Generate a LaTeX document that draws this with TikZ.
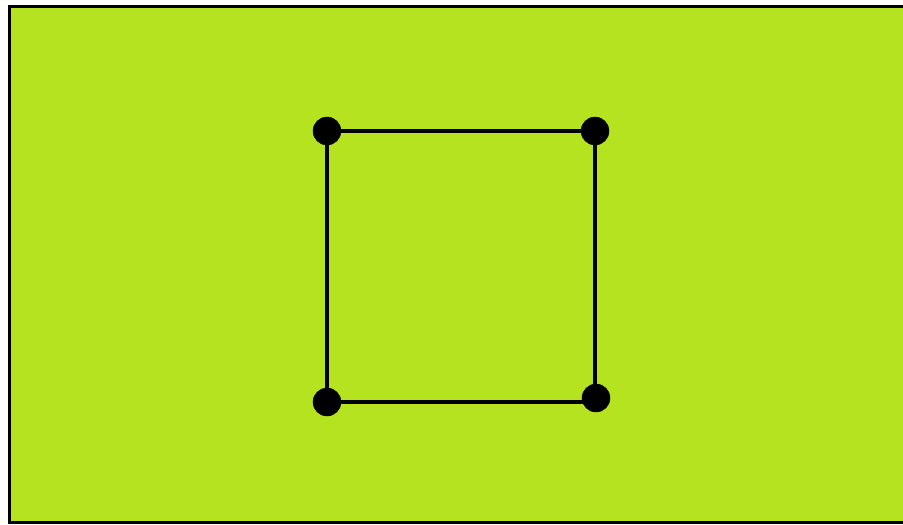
\documentclass[tikz,border=0pt]{standalone}
\definecolor{limegreen}{RGB}{181,227,32}

\begin{document}
\begin{tikzpicture}
[
	x=1pt, y=-1pt,
	vertex/.style={circle,draw,fill,inner sep=0pt,minimum size=28pt},
	edge/.style={line width=4pt}
]

	\useasboundingbox (0,0) rectangle (903,525);

	% background
	\begin{scope}
		\clip (0,0) rectangle (903,525);
		\draw[fill=limegreen,line width=3pt] (9.5,6.5) rectangle (915,522);
	\end{scope}

	% square
	\node[vertex] at (327,131) (tl) {};
	\node[vertex] at (595,131) (tr) {};
	\node[vertex] at (596,398) (br) {};
	\node[vertex] at (327,402) (bl) {};

	\draw[edge] (tl.center) -- (tr.center);
	\draw[edge] (tr.center) -- (tr.center |- bl.center);
	\draw[edge] (bl.center) -- (br.center |- bl.center);
	\draw[edge] (bl.center) -- (tl.center);

\end{tikzpicture}
\end{document}
